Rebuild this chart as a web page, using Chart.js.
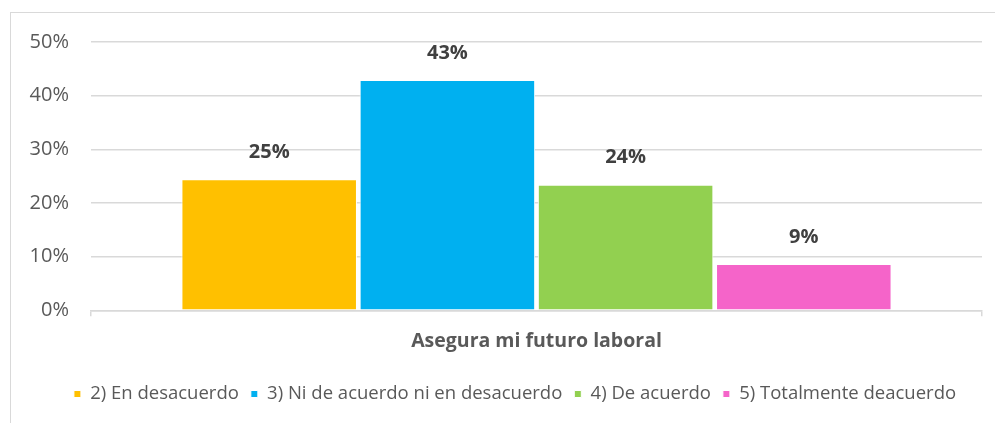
<!DOCTYPE html>
<html>
<head>
<meta charset="utf-8">
<script src="https://cdn.jsdelivr.net/npm/chart.js@4/dist/chart.umd.min.js"></script>
<style>
  html, body { margin: 0; padding: 0; background: #fff; overflow: hidden; }
  #wrap { position: relative; width: 995px; height: 423px; }
  #frame { position: absolute; left: 10px; top: 12px; width: 1000px; height: 430px; border: 1px solid #d9d9d9; box-sizing: border-box; }
  canvas { position: absolute; left: 0; top: 0; }
</style>
</head>
<body>
<div id="wrap">
  <div id="frame"></div>
  <canvas id="c" width="995" height="423"></canvas>
</div>
<script>
const categories = ["Asegura mi futuro laboral"];
const seriesNames = ["2) En desacuerdo", "3) Ni de acuerdo ni en desacuerdo", "4) De acuerdo", "5) Totalmente deacuerdo"];
const seriesValues = [24.4, 42.9, 23.4, 8.6];
const valueLabels = ["25%", "43%", "24%", "9%"];
const seriesColors = ["#FFC000", "#00B0F0", "#92D050", "#F564C9"];
const yTicks = [0, 10, 20, 30, 40, 50];

const FONT = "'Open Sans', 'Noto Sans', sans-serif";

const barLabelPlugin = {
  id: 'barLabels',
  afterDatasetsDraw(chart) {
    const ctx = chart.ctx;
    ctx.save();
    ctx.font = "bold 20px " + FONT;
    ctx.fillStyle = "#404040";
    ctx.textAlign = "center";
    ctx.textBaseline = "middle";
    chart.data.datasets.forEach((ds, i) => {
      const meta = chart.getDatasetMeta(i);
      meta.data.forEach((el) => {
        ctx.fillText(valueLabels[i], el.x, el.y - 27);
      });
    });
    ctx.restore();
  }
};

const legendShiftPlugin = {
  id: 'legendShift',
  afterLayout(chart) {
    const lg = chart.legend;
    if (lg) { lg.left += 24; lg.right += 24; }
  }
};

new Chart(document.getElementById('c'), {
  type: 'bar',
  data: {
    labels: categories,
    datasets: seriesNames.map((name, i) => ({
      label: name,
      data: [seriesValues[i]],
      backgroundColor: seriesColors[i],
      borderColor: "#ffffff",
      borderWidth: 1,
      categoryPercentage: 0.8,
      barPercentage: 0.985
    }))
  },
  options: {
    responsive: false,
    animation: false,
    devicePixelRatio: 1,
    layout: { padding: { left: 0, right: 13, top: 42, bottom: 9.75 } },
    plugins: {
      legend: {
        position: 'bottom',
        labels: {
          boxWidth: 7,
          boxHeight: 7,
          padding: 12,
          color: "#595959",
          font: { family: FONT, size: 18.5 }
        }
      },
      tooltip: { enabled: false }
    },
    scales: {
      x: {
        grid: { display: true, drawOnChartArea: false, drawTicks: true, tickLength: 6, color: "#d9d9d9", lineWidth: 1.5 },
        border: { display: true, color: "#d9d9d9", width: 1.5 },
        ticks: { color: "#595959", padding: 13, font: { family: FONT, size: 19.5, weight: 'bold' } },
        afterFit(scale) { scale.height = 62.5; }
      },
      y: {
        min: 0, max: 50,
        afterBuildTicks(scale) { scale.ticks = yTicks.map(v => ({ value: v })); },
        grid: { color: "#d9d9d9", lineWidth: 1.5, drawTicks: false },
        border: { display: false },
        ticks: {
          color: "#595959",
          padding: 22,
          font: { family: FONT, size: 20 },
          callback: (v) => v + "%"
        },
        afterFit(scale) { scale.width = 91; }
      }
    }
  },
  plugins: [barLabelPlugin, legendShiftPlugin]
});
</script>
</body>
</html>
